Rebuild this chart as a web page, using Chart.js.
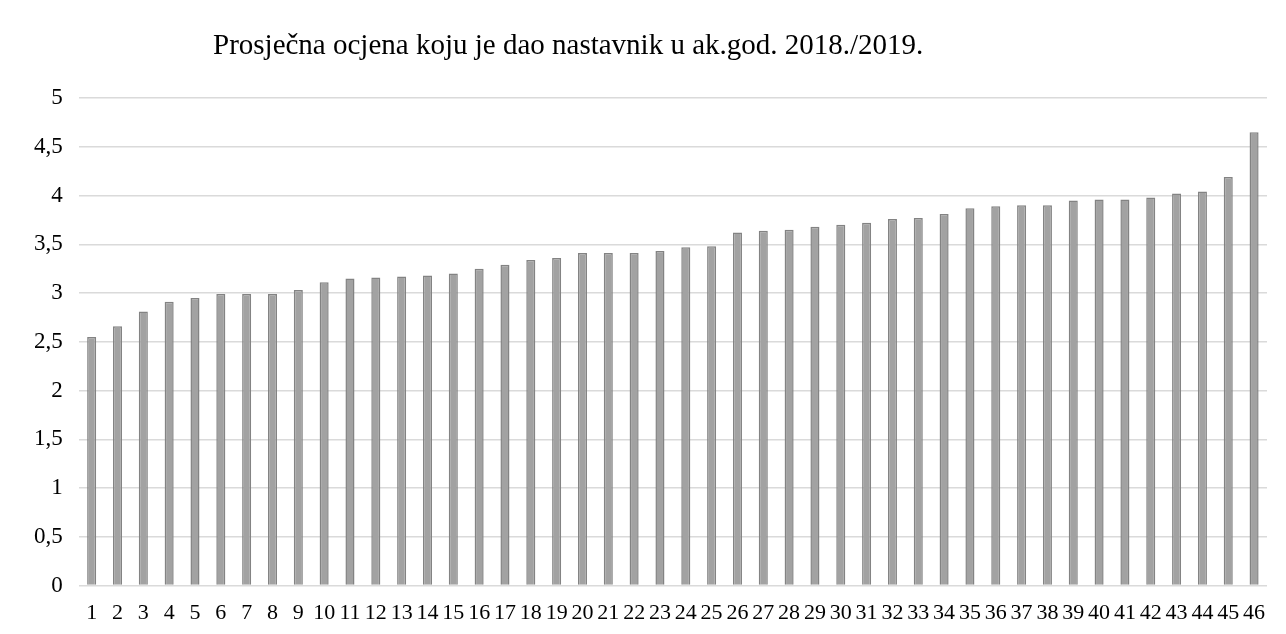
<!DOCTYPE html>
<html>
<head>
<meta charset="utf-8">
<script src="https://cdn.jsdelivr.net/npm/chart.js@4.4.1/dist/chart.umd.min.js"></script>
<style>
  html, body { margin: 0; padding: 0; background: #fff; }
  #wrap { position: relative; width: 1286px; height: 634px; }
  #title {
    position: absolute; left: 213px; top: 28px;
    font-family: "Liberation Serif", serif; font-size: 29px; color: #000;
    white-space: nowrap;
  }
</style>
</head>
<body>
<div id="wrap">
  <div id="title">Prosječna ocjena koju je dao nastavnik u ak.god. 2018./2019.</div>
  <canvas id="chart" width="1286" height="634"></canvas>
</div>
<script>
// nastavnici 1..46, prosjecna ocjena
const labels = Array.from({ length: 46 }, (_, i) => String(i + 1));
const grades = [
  2.55, 2.66, 2.81, 2.91, 2.95, 2.99, 2.99, 2.99, 3.03, 3.11,
  3.15, 3.16, 3.17, 3.18, 3.2, 3.25, 3.29, 3.34, 3.36, 3.41,
  3.41, 3.41, 3.43, 3.47, 3.48, 3.62, 3.64, 3.65, 3.68, 3.7,
  3.72, 3.76, 3.77, 3.81, 3.87, 3.89, 3.9, 3.9, 3.95, 3.96,
  3.96, 3.98, 4.02, 4.04, 4.19, 4.65
];

const serif = "'Liberation Serif', 'Times New Roman', serif";

new Chart(document.getElementById("chart").getContext("2d"), {
  type: "bar",
  data: {
    labels: labels,
    datasets: [
      {
        data: grades,
        backgroundColor: "#a2a2a2",
        borderColor: "#838383",
        borderWidth: 1.5,
        barPercentage: 0.35,
        categoryPercentage: 1,
      },
    ],
  },
  options: {
    responsive: false,
    animation: false,
    layout: { padding: { top: 98, left: 18, right: 19, bottom: 2 } },
    plugins: {
      legend: { display: false },
      tooltip: { enabled: false },
    },
    scales: {
      x: {
        grid: { display: false },
        border: { display: false },
        ticks: {
          color: "#000",
          font: { family: serif, size: 22 },
          padding: 6,
          maxRotation: 0,
          autoSkip: false,
        },
      },
      y: {
        min: 0,
        max: 5,
        grid: { color: "#dadada", lineWidth: 1.5, drawTicks: false },
        border: { display: false },
        ticks: {
          stepSize: 0.5,
          color: "#000",
          font: { family: serif, size: 23 },
          padding: 16,
          callback: (v) => String(v).replace(".", ","),
        },
      },
    },
  },
});
</script>
</body>
</html>
